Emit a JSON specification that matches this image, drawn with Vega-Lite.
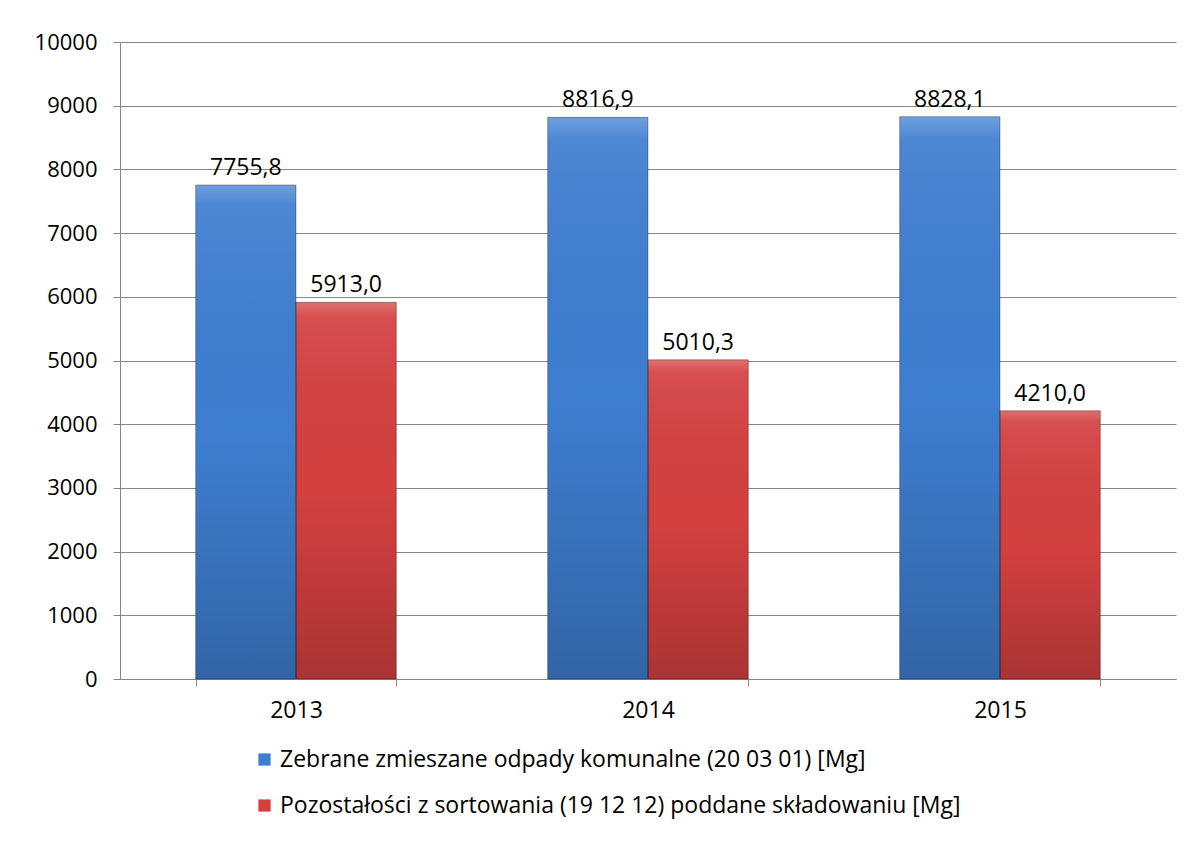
{
  "$schema": "https://vega.github.io/schema/vega-lite/v6.json",
  "autosize": {"type": "none"},
  "width": 1056,
  "height": 637,
  "padding": {"left": 120, "top": 42, "right": 17, "bottom": 169},
  "background": "white",
  "data": {
    "values": [
      {"year": "2013", "series": "Zebrane zmieszane odpady komunalne (20 03 01) [Mg]", "value": 7755.8},
      {"year": "2013", "series": "Pozostałości z sortowania (19 12 12) poddane składowaniu [Mg]", "value": 5913.0},
      {"year": "2014", "series": "Zebrane zmieszane odpady komunalne (20 03 01) [Mg]", "value": 8816.9},
      {"year": "2014", "series": "Pozostałości z sortowania (19 12 12) poddane składowaniu [Mg]", "value": 5010.3},
      {"year": "2015", "series": "Zebrane zmieszane odpady komunalne (20 03 01) [Mg]", "value": 8828.1},
      {"year": "2015", "series": "Pozostałości z sortowania (19 12 12) poddane składowaniu [Mg]", "value": 4210.0}
    ]
  },
  "encoding": {
    "x": {
      "field": "year",
      "type": "nominal",
      "scale": {"paddingInner": 0.43, "paddingOuter": 0.215},
      "axis": {
        "title": null,
        "labelAngle": 0,
        "labelFont": "Open Sans",
        "labelFontSize": 23,
        "labelColor": "#000000",
        "labelPadding": 13,
        "tickBand": "extent",
        "tickSize": 7,
        "tickColor": "#878787",
        "domainColor": "#878787",
        "grid": false
      }
    },
    "xOffset": {
      "field": "series",
      "sort": ["Zebrane zmieszane odpady komunalne (20 03 01) [Mg]", "Pozostałości z sortowania (19 12 12) poddane składowaniu [Mg]"]
    },
    "y": {
      "field": "value",
      "type": "quantitative",
      "scale": {"domain": [0, 10000], "nice": false},
      "axis": {
        "title": null,
        "values": [0, 1000, 2000, 3000, 4000, 5000, 6000, 7000, 8000, 9000, 10000],
        "format": "d",
        "labelFont": "Open Sans",
        "labelFontSize": 22,
        "labelColor": "#000000",
        "labelPadding": 16,
        "tickSize": 7,
        "tickColor": "#878787",
        "domainColor": "#878787",
        "grid": true,
        "gridColor": "#878787",
        "gridWidth": 1
      }
    }
  },
  "layer": [
    {
      "mark": {"type": "bar"},
      "encoding": {
        "color": {
          "field": "series",
          "type": "nominal",
          "sort": ["Zebrane zmieszane odpady komunalne (20 03 01) [Mg]", "Pozostałości z sortowania (19 12 12) poddane składowaniu [Mg]"],
          "scale": {"range": ["#3E7ED0", "#D44040"]},
          "legend": {
            "title": null,
            "orient": "none",
            "legendX": 133,
            "legendY": 706,
            "direction": "vertical",
            "symbolType": "square",
            "symbolSize": 150,
            "symbolStrokeWidth": 0,
            "labelFont": "Open Sans",
            "labelFontSize": 23,
            "labelColor": "#000000",
            "labelLimit": 1000,
            "labelOffset": 4,
            "rowPadding": 22
          }
        }
      }
    },
    {
      "mark": {
        "type": "bar",
        "stroke": "rgba(0,0,0,0.3)",
        "strokeWidth": 1,
        "fill": {
          "gradient": "linear",
          "x1": 0, "y1": 0, "x2": 0, "y2": 1,
          "stops": [
            {"offset": 0, "color": "rgba(255,255,255,0.25)"},
            {"offset": 0.04, "color": "rgba(255,255,255,0.08)"},
            {"offset": 0.5, "color": "rgba(0,0,0,0.0)"},
            {"offset": 1, "color": "rgba(0,0,0,0.2)"}
          ]
        }
      },
      "encoding": {}
    },
    {
      "mark": {
        "type": "text",
        "baseline": "bottom",
        "dy": -5,
        "font": "Open Sans",
        "fontSize": 23,
        "color": "#000000"
      },
      "encoding": {
        "text": {"field": "value", "type": "quantitative", "format": ".1f"}
      }
    }
  ],
  "config": {
    "locale": {
      "number": {"decimal": ",", "thousands": " ", "grouping": [3], "currency": ["", " zł"]}
    },
    "view": {"stroke": null}
  }
}
